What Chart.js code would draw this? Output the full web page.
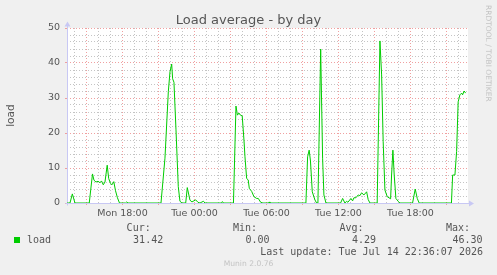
<!DOCTYPE html>
<html>
<head>
<meta charset="utf-8">
<script src="https://cdn.jsdelivr.net/npm/chart.js@4/dist/chart.umd.min.js"></script>
<style>
  body { margin: 0; background: #f0f0f0; }
  #wrap { position: relative; width: 497px; height: 275px; overflow: hidden; }
  .t { position: absolute; white-space: pre; line-height: 1; color: #555; }
  .sans { font-family: "DejaVu Sans", sans-serif; }
  .mono { font-family: "DejaVu Sans Mono", monospace; font-size: 10px; }
</style>
</head>
<body>
<div id="wrap">
  <canvas id="load" width="497" height="275"></canvas>
  <div class="t sans" style="left:0;width:497px;text-align:center;top:13px;font-size:13px;">Load average - by day</div>
  <div class="t sans" style="left:492px;top:5px;font-size:7.5px;color:#c4c4c4;transform:rotate(90deg);transform-origin:0 0;">RRDTOOL / TOBI OETIKER</div>
  <div style="position:absolute;left:14px;top:237px;width:6px;height:6px;background:#00cc00;"></div>
  <div class="t mono" style="left:27px;top:234.8px;">load</div>
  <div class="t mono" style="right:14px;top:247.2px;">Last update: Tue Jul 14 22:36:07 2026</div>
  <div class="t sans" style="left:0;width:497px;text-align:center;top:260.3px;font-size:7.6px;color:#c4c4c4;">Munin 2.0.76</div>
</div>
<script>
// hours since Mon 00:00
const hours = [
  13.375, 13.625, 13.82, 14.04, 15.23, 15.5, 15.625, 15.79, 15.96, 16.125,
  16.25, 16.4, 16.54, 16.725, 16.85, 17.0, 17.125, 17.275, 17.42, 17.58,
  17.75, 18.25, 18.35, 18.46, 21.21, 21.54, 21.82, 21.96, 22.1, 22.18,
  22.29, 22.46, 22.65, 22.79, 22.96, 23.27, 23.4, 23.625, 23.79, 24.1,
  24.29, 24.46, 24.75, 24.875, 26.25, 26.33, 26.42, 27.25, 27.46, 27.58,
  27.71, 27.83, 27.98, 28.125, 28.21, 28.35, 28.48, 28.57, 28.77, 28.96,
  29.18, 29.32, 29.52, 29.71, 30.17, 30.23, 30.29, 33.29, 33.43, 33.56,
  33.67, 33.82, 34.04, 34.18, 34.29, 34.52, 34.68, 34.79, 34.96, 36.18,
  36.35, 36.54, 36.68, 36.79, 37.04, 37.18, 37.29, 37.46, 37.65, 37.79,
  37.93, 38.125, 38.35, 38.48, 38.625, 39.23, 39.46, 39.6, 39.73, 39.875,
  40.07, 40.35, 40.43, 40.54, 40.65, 40.79, 40.98, 41.125, 42.18, 42.4,
  42.57, 42.73, 45.42, 45.52, 45.71, 45.85, 45.98, 46.125, 46.27, 46.35,
  46.48, 46.6
];
const loads = [
  0, 0, 2.6, 0, 0, 8.3, 6.5, 6.0, 6.2, 5.8,
  6.3, 5.2, 6.0, 10.8, 7.0, 5.6, 5.2, 6.1, 3.5, 1.5,
  0, 0, 0.3, 0, 0, 12.8, 31.8, 37.5, 39.7, 35.5,
  34.5, 20.9, 4.7, 0.5, 0, 0, 4.4, 0.8, 0.3, 0.9,
  0.2, 0, 0.5, 0, 0, 0.4, 0, 0, 27.7, 25.1,
  25.7, 25.1, 24.9, 18.0, 13.2, 7.0, 6.6, 4.2, 3.3, 1.8,
  1.3, 1.3, 0.2, 0, 0, 0.3, 0, 0, 13.2, 15.1,
  12.0, 3.2, 0.9, 0, 0, 44.0, 12.8, 2.3, 0, 0,
  1.3, 0, 0.5, 0.2, 1.3, 0.6, 1.5, 1.5, 2.3, 2.1,
  2.9, 2.3, 3.2, 1.0, 0, 0, 46.3, 36.6, 17.5, 3.7,
  1.8, 1.2, 8.0, 15.1, 8.0, 1.3, 0.5, 0, 0, 4.0,
  1.3, 0, 0, 8.0, 8.0, 14.7, 28.9, 30.9, 31.4, 30.9,
  32.0, 31.4
];

const tickHours = [18, 24, 30, 36, 42];
const tickLabels = ["Mon 18:00", "Tue 00:00", "Tue 06:00", "Tue 12:00", "Tue 18:00"];
const yLabels = [0, 10, 20, 30, 40, 50];

const statNames = ["Cur:", "Min:", "Avg:", "Max:"];
const statValues = ["31.42", "0.00", "4.29", "46.30"];
const statRight = [150.7, 257, 363.5, 470];

// legend columns
const wrap = document.getElementById("wrap");
statNames.forEach((name, i) => {
  const a = document.createElement("div");
  a.className = "t mono";
  a.style.right = (497 - statRight[i]) + "px";
  a.style.top = "222.5px";
  a.textContent = name;
  const b = document.createElement("div");
  b.className = "t mono";
  b.style.right = (497 - statRight[i] - 12.5) + "px";
  b.style.top = "234.8px";
  b.textContent = statValues[i];
  wrap.append(a, b);
});

const red = "rgba(238,150,150,0.9)";
const grey = "rgba(190,190,190,0.9)";
const axisBlue = "#c8c8f4";

// white plot area + rrdtool style axes with arrows
const rrdFrame = {
  id: "rrdFrame",
  beforeDraw(chart) {
    const { ctx, chartArea: a } = chart;
    ctx.save();
    ctx.fillStyle = "#ffffff";
    ctx.fillRect(a.left, a.top, a.right - a.left, a.bottom - a.top);
    ctx.restore();
  },
  beforeDatasetsDraw(chart) {
    const { ctx, chartArea: a } = chart;
    const y0 = Math.round(a.bottom) + 0.5;
    const x0 = Math.round(a.left) + 0.5;
    ctx.save();
    ctx.strokeStyle = axisBlue;
    ctx.fillStyle = axisBlue;
    ctx.lineWidth = 1;
    ctx.beginPath();
    ctx.moveTo(x0 - 2, y0);
    ctx.lineTo(a.right + 2, y0);
    ctx.moveTo(x0, y0 + 2);
    ctx.lineTo(x0, a.top - 3);
    ctx.stroke();
    ctx.beginPath();
    ctx.moveTo(a.right + 6, y0);
    ctx.lineTo(a.right + 1, y0 - 3);
    ctx.lineTo(a.right + 1, y0 + 3);
    ctx.closePath();
    ctx.fill();
    ctx.beginPath();
    ctx.moveTo(x0, a.top - 6.5);
    ctx.lineTo(x0 - 3, a.top - 1.5);
    ctx.lineTo(x0 + 3, a.top - 1.5);
    ctx.closePath();
    ctx.fill();
    ctx.restore();
  }
};

new Chart(document.getElementById("load"), {
  type: "line",
  data: {
    datasets: [{
      label: "load",
      data: hours.map((h, i) => ({ x: h, y: loads[i] })),
      borderColor: "#00cc00",
      borderWidth: 1,
      pointRadius: 0,
      tension: 0,
      fill: false
    }]
  },
  options: {
    responsive: false,
    animation: false,
    events: [],
    layout: { padding: { left: 0, top: 28, right: 29, bottom: 0 } },
    plugins: { legend: { display: false }, tooltip: { enabled: false } },
    scales: {
      x: {
        type: "linear",
        min: 13.375,
        max: 46.8,
        afterFit(scale) { scale.height = 72; },
        border: { display: false, dash: [1, 2] },
        grid: {
          color: c => (c.tick && c.tick.value % 3 === 0 ? red : grey),
          tickColor: c => (c.tick && c.tick.value % 3 === 0 ? red : "rgba(0,0,0,0)"),
          tickLength: 2
        },
        ticks: {
          stepSize: 1,
          includeBounds: false,
          autoSkip: false,
          maxRotation: 0,
          padding: 3,
          color: "#555",
          font: { family: "DejaVu Sans", size: 9.5 },
          callback: v => {
            const i = tickHours.indexOf(v);
            return i >= 0 ? tickLabels[i] : "";
          }
        }
      },
      y: {
        min: 0,
        max: 50,
        afterFit(scale) { scale.width = 67; },
        border: { display: false, dash: [1, 2] },
        grid: {
          color: c => (c.tick && c.tick.value % 10 === 0 ? red : grey),
          tickColor: c => (c.tick && c.tick.value % 10 === 0 ? red : "rgba(0,0,0,0)"),
          tickLength: 2
        },
        title: {
          display: true,
          text: "load",
          color: "#555",
          font: { family: "DejaVu Sans", size: 10.6 },
          padding: { top: 5, bottom: 0 }
        },
        ticks: {
          stepSize: 2,
          autoSkip: false,
          padding: 5,
          color: "#555",
          font: { family: "DejaVu Sans", size: 9.5 },
          callback: v => (yLabels.includes(v) ? String(v) : "")
        }
      }
    }
  },
  plugins: [rrdFrame]
});
</script>
</body>
</html>
